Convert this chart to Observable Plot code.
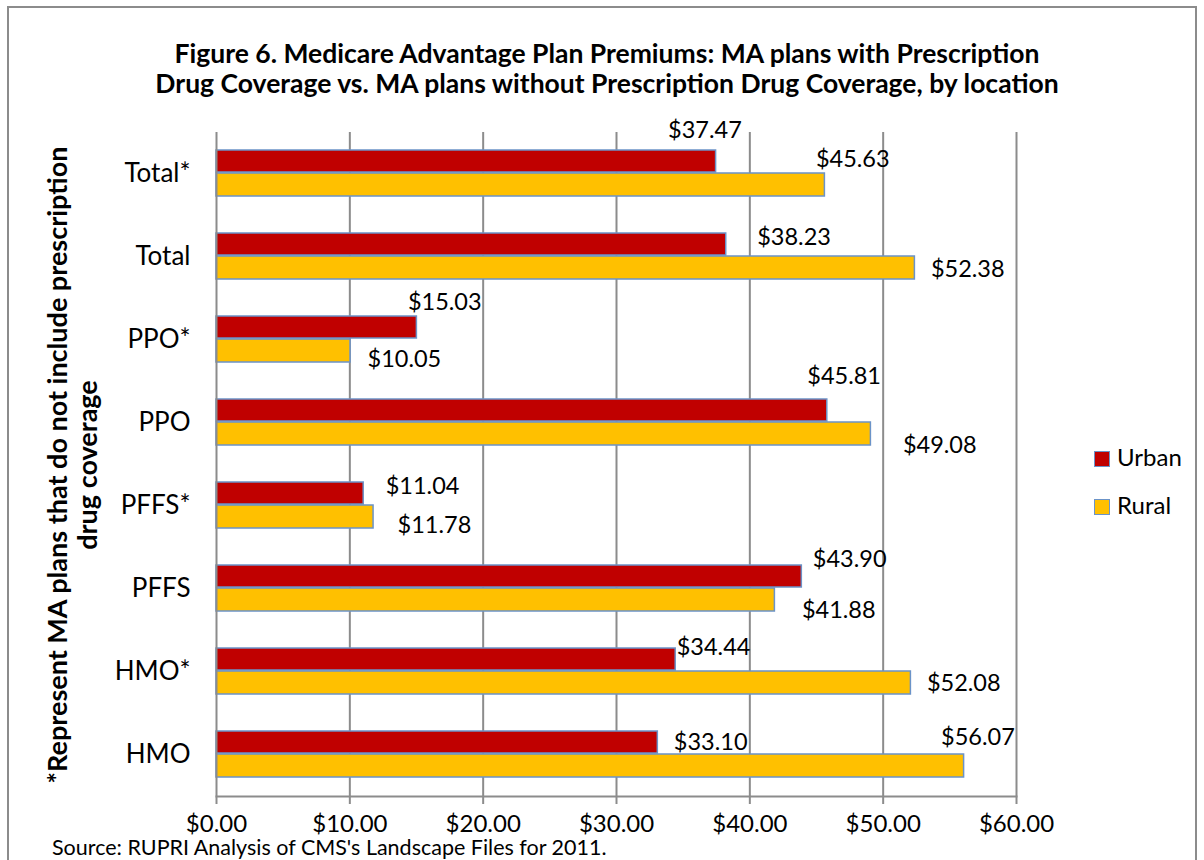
<!DOCTYPE html>
<html>
<head>
<meta charset="utf-8">
<script src="https://cdn.jsdelivr.net/npm/d3@7"></script>
<script src="https://cdn.jsdelivr.net/npm/@observablehq/plot@0.6"></script>
<style>
  body { margin: 0; background: #fff; }
  #wrap { position: relative; width: 1204px; height: 860px; overflow: hidden; font-family: Lato, sans-serif; color: #000; background: #fff; }
  #frame { position: absolute; left: 7px; top: 6px; width: 1190px; height: 920px; border: 2px solid #8c8c8c; box-sizing: border-box; }
  #chart { position: absolute; left: 0; top: 0; }
  #title { position: absolute; left: 0; top: 38px; width: 1214px; text-align: center; font-weight: bold; font-size: 26.5px; line-height: 30px; white-space: nowrap; }
  #ytitle { position: absolute; width: 700px; height: 60px; left: -278px; top: 435px; text-align: center; font-weight: bold; font-size: 27px; line-height: 30px; transform: rotate(-90deg); transform-origin: 50% 50%; white-space: nowrap; }
  #source { position: absolute; left: 52px; top: 836px; font-size: 21.5px; line-height: 22px; white-space: nowrap; }
  .leg { position: absolute; left: 1094px; font-size: 24px; line-height: 24px; white-space: nowrap; }
  .sw { display: inline-block; width: 16px; height: 16px; box-sizing: border-box; border: 1.5px solid #6b93c8; vertical-align: top; margin-top: 6px; margin-right: 7px; }
</style>
</head>
<body>
<div id="wrap">
  <div id="frame"></div>
  <div id="chart"></div>
  <div id="title">Figure 6. Medicare Advantage Plan Premiums: MA plans with Prescription<br>Drug Coverage vs. MA plans without Prescription Drug Coverage, by location</div>
  <div id="ytitle">*Represent MA plans that do not include prescription<br>drug coverage</div>
  <div id="source">Source: RUPRI Analysis of CMS's Landscape Files for 2011.</div>
  <div id="legend"></div>
</div>
<script>
// ---- data ----
const categories = ["Total*", "Total", "PPO*", "PPO", "PFFS*", "PFFS", "HMO*", "HMO"];
const urban = [37.47, 38.23, 15.03, 45.81, 11.04, 43.90, 34.44, 33.10];
const rural = [45.63, 52.38, 10.05, 49.08, 11.78, 41.88, 52.08, 56.07];
const seriesNames = ["Urban", "Rural"];
const seriesColors = ["#C00000", "#FFC000"];
const xTicks = [0, 10, 20, 30, 40, 50, 60];

// ---- layout: data-label nudges in px [dx, dy] (Excel hand-placed labels) ----
const urbanNudge = [[-48, -31], [31, -7], [-9, -25], [-20, -34], [22, -7], [11, -17], [1, -12], [16, 0]];
const ruralNudge = [[-9, -26], [16, 1], [17, 8], [32, 11], [24, 8], [27, 10], [16, 0], [-23, -29]];

const fmt = d3.format("$.2f");
const gridColor = "#8c8c8c";
const barStroke = "#6b93c8";

const urbanRows = categories.map((c, i) => ({category: c, value: urban[i]}));
const ruralRows = categories.map((c, i) => ({category: c, value: rural[i]}));

const labelMarks = [];
categories.forEach((c, i) => {
  labelMarks.push(Plot.text([urbanRows[i]], {
    x: "value", y: "category", text: d => fmt(d.value), textAnchor: "start",
    dx: urbanNudge[i][0], dy: -12.5 + urbanNudge[i][1], fontSize: 23.5, fill: "#000"
  }));
  labelMarks.push(Plot.text([ruralRows[i]], {
    x: "value", y: "category", text: d => fmt(d.value), textAnchor: "start",
    dx: ruralNudge[i][0], dy: 11 + ruralNudge[i][1], fontSize: 23.5, fill: "#000"
  }));
});

const chart = Plot.plot({
  width: 1204,
  height: 860,
  marginLeft: 216,
  marginRight: 188,
  marginTop: 132,
  marginBottom: 64,
  style: {fontFamily: "Lato, sans-serif", background: "transparent", color: "#000", overflow: "visible"},
  x: {domain: [0, 60], label: null},
  y: {domain: categories, padding: 0, label: null},
  marks: [
    Plot.gridX(xTicks.slice(1), {stroke: gridColor, strokeOpacity: 1, strokeWidth: 2}),
    Plot.barX(urbanRows, {x: "value", y: "category", fill: seriesColors[0], stroke: barStroke, strokeWidth: 1.5, insetTop: 18, insetBottom: 43}),
    Plot.barX(ruralRows, {x: "value", y: "category", fill: seriesColors[1], stroke: barStroke, strokeWidth: 1.5, insetTop: 41, insetBottom: 19}),
    Plot.ruleX([0], {stroke: gridColor, strokeWidth: 2}),
    Plot.frame({anchor: "bottom", stroke: gridColor, strokeWidth: 2}),
    Plot.axisX(xTicks, {tickFormat: fmt, tickSize: 8, tickPadding: 10, fontSize: 24, stroke: gridColor, strokeWidth: 2, label: null}),
    Plot.axisY({tickSize: 0, tickPadding: 26, fontSize: 26, label: null}),
    ...labelMarks
  ]
});
document.getElementById("chart").appendChild(chart);

// legend
const legend = document.getElementById("legend");
const legTops = [445, 493];
seriesNames.forEach((name, i) => {
  const row = document.createElement("div");
  row.className = "leg";
  row.style.top = legTops[i] + "px";
  const sw = document.createElement("span");
  sw.className = "sw";
  sw.style.background = seriesColors[i];
  row.appendChild(sw);
  row.appendChild(document.createTextNode(name));
  legend.appendChild(row);
});
</script>
</body>
</html>
